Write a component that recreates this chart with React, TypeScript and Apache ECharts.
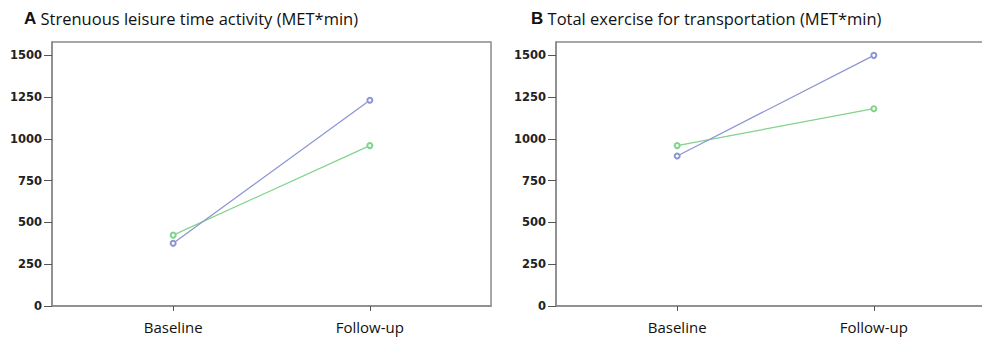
import React, { useEffect, useRef } from "react";
import * as echarts from "echarts";

const categories = ["Baseline", "Follow-up"];
const yTicks = [0, 250, 500, 750, 1000, 1250, 1500];
const titleA = "Strenuous leisure time activity (MET*min)";
const titleB = "Total exercise for transportation (MET*min)";
const aBlue = [375, 1231];
const aGreen = [424, 960];
const bBlue = [898, 1500];
const bGreen = [960, 1181];

const BLUE = "#8b95d2";
const GREEN = "#80d38c";
const AXIS = "#8a8a8a";

export default function App() {
  const ref = useRef<HTMLDivElement>(null);
  useEffect(() => {
    if (!ref.current) return;
    const chart = echarts.init(ref.current, null, { renderer: "svg" });
    const grids = [
      { left: 52, top: 42, width: 439, height: 264 },
      { left: 556, top: 42, width: 439, height: 264 },
    ];
    const xAxis = grids.map((_, i) => ({
      type: "value",
      gridIndex: i,
      min: -0.616,
      max: 1.616,
      axisLine: { show: true, onZero: false, lineStyle: { color: AXIS, width: 1.5 } },
      splitLine: { show: false },
      axisTick: {
        show: true,
        length: 5,
        customValues: [0, 1],
        lineStyle: { color: "#555", width: 1 },
      },
      axisLabel: {
        customValues: [0, 1],
        formatter: (v: number) => categories[Math.round(v)] ?? "",
        fontFamily: "Open Sans",
        fontSize: 15,
        color: "#111",
        margin: 13,
      },
    }));
    const yAxis = grids.map((_, i) => ({
      type: "value",
      gridIndex: i,
      min: yTicks[0],
      max: 1580,
      interval: 250,
      axisLine: { show: true, onZero: false, lineStyle: { color: AXIS, width: 1.5 } },
      splitLine: { show: false },
      axisTick: { show: true, length: 8, lineStyle: { color: "#555", width: 1 } },
      axisLabel: {
        showMaxLabel: false,
        formatter: (v: number) => (yTicks.includes(v) ? String(v) : ""),
        fontFamily: "DejaVu Sans",
        fontWeight: "bold",
        fontSize: 11.5,
        color: "#222",
        margin: 10,
      },
    }));
    const mk = (data: number[], color: string, i: number) => ({
      type: "line",
      xAxisIndex: i,
      yAxisIndex: i,
      data: data.map((v, k) => [k, v]),
      symbol: "emptyCircle",
      symbolSize: 5,
      lineStyle: { color, width: 1.2 },
      itemStyle: { color, borderColor: color, borderWidth: 1 },
      z: color === BLUE ? 3 : 2,
    });
    const titleStyle = {
      rich: {
        b: { fontFamily: "Liberation Sans", fontWeight: "bold", fontSize: 17, color: "#111" },
      },
      fontFamily: "Open Sans",
      fontWeight: "normal",
      fontSize: 16.5,
      color: "#111",
    };
    chart.setOption({
      animation: false,
      backgroundColor: "#fff",
      title: [
        { left: 19, top: 5, text: "{b|A} " + titleA, textStyle: titleStyle },
        { left: 526, top: 5, text: "{b|B} " + titleB, textStyle: titleStyle },
      ],
      grid: grids.map((g) => ({
        ...g,
        show: true,
        borderColor: AXIS,
        borderWidth: 1.5,
        backgroundColor: "transparent",
        outerBoundsMode: "none",
      })),
      xAxis,
      yAxis,
      series: [mk(aBlue, BLUE, 0), mk(aGreen, GREEN, 0), mk(bBlue, BLUE, 1), mk(bGreen, GREEN, 1)],
    });
    return () => chart.dispose();
  }, []);
  return (
    <div style={{ position: "absolute", left: 0, top: 0, width: 982, height: 343, overflow: "hidden" }}>
      <div ref={ref} style={{ width: 1000, height: 343 }} />
    </div>
  );
}
